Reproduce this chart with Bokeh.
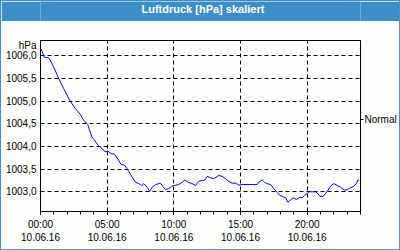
from bokeh.plotting import figure
from bokeh.layouts import column
from bokeh.models import FixedTicker, LinearAxis, Range1d, Label
from bokeh.embed import file_html
from bokeh.resources import INLINE

# --- data (hours since 10.06.16 00:00, pressure in hPa) ---
hours = [0.05, 0.30, 0.60, 0.73, 0.98, 1.35, 1.73, 2.23, 2.60, 2.98, 3.23, 3.55, 3.65, 3.85,
         4.05, 4.30, 4.60, 4.85, 5.05, 5.30, 5.55, 5.85, 6.05, 6.30, 6.62, 6.88, 7.13, 7.37,
         7.58, 7.75, 8.00, 8.18, 8.38, 8.63, 8.87, 9.00, 9.17, 9.38, 9.62, 9.83, 10.07, 10.37,
         10.63, 10.82, 11.08, 11.38, 11.63, 11.87, 12.13, 12.32, 12.50, 12.75, 13.00, 13.37,
         13.63, 13.88, 14.12, 14.38, 14.63, 14.87, 15.13, 15.50, 15.88, 16.25, 16.45, 16.63,
         16.80, 17.00, 17.25, 17.50, 17.75, 17.95, 18.13, 18.38, 18.55, 18.75, 18.95, 19.20,
         19.45, 19.63, 19.80, 20.00, 20.12, 20.38, 20.63, 20.80, 20.95, 21.20, 21.38, 21.55,
         21.80, 22.00, 22.25, 22.50, 22.80, 23.00, 23.25, 23.50, 23.70, 23.80, 23.90]
pressure = [1006.15, 1005.96, 1005.96, 1005.90, 1005.76, 1005.51, 1005.28, 1005.00, 1004.84,
            1004.71, 1004.58, 1004.48, 1004.39, 1004.21, 1004.14, 1004.03, 1003.96, 1003.88,
            1003.90, 1003.84, 1003.83, 1003.70, 1003.60, 1003.59, 1003.45, 1003.32, 1003.21,
            1003.18, 1003.14, 1003.18, 1003.10, 1003.01, 1003.10, 1003.16, 1003.18, 1003.19,
            1003.12, 1003.05, 1003.07, 1003.12, 1003.14, 1003.16, 1003.21, 1003.26, 1003.21,
            1003.18, 1003.14, 1003.23, 1003.25, 1003.26, 1003.34, 1003.31, 1003.29, 1003.36,
            1003.34, 1003.29, 1003.23, 1003.19, 1003.19, 1003.15, 1003.16, 1003.16, 1003.16,
            1003.16, 1003.23, 1003.26, 1003.21, 1003.18, 1003.16, 1003.07, 1002.99, 1002.92,
            1002.90, 1002.87, 1002.77, 1002.82, 1002.87, 1002.83, 1002.88, 1002.87, 1002.92,
            1002.96, 1003.00, 1003.00, 1003.00, 1002.96, 1002.90, 1002.90, 1002.96, 1003.03,
            1003.14, 1003.18, 1003.14, 1003.10, 1003.04, 1003.04, 1003.09, 1003.12, 1003.19,
            1003.26, 1003.25]

x_ticks = [0, 5, 10, 15, 20]
x_minor_ticks = list(range(0, 25))
x_tick_labels = ["00:00\n10.06.16", "05:00\n10.06.16", "10:00\n10.06.16",
                 "15:00\n10.06.16", "20:00\n10.06.16"]
y_ticks = [1003.0, 1003.5, 1004.0, 1004.5, 1005.0, 1005.5, 1006.0]
y_tick_labels = ["1003,0", "1003,5", "1004,0", "1004,5", "1005,0", "1005,5", "1006,0"]
normal_value = [1004.59]
normal_label = ["Normal"]
title_text = "Luftdruck [hPa] skaliert"
unit_text = "hPa"

UNIT_POS = 1006.23          # where the unit caption sits on the value axis
FONT = "Liberation Sans"
BLUE = "#3d8ec6"
BG = "#fcfefc"

# ---- title bar ----
t = figure(width=398, height=20, output_backend="svg", toolbar_location=None,
           x_range=Range1d(0, 398), y_range=Range1d(0, 20), title=None,
           x_axis_type=None, y_axis_type=None, min_border=0,
           background_fill_color=BLUE, border_fill_color=BLUE, outline_line_color=None)
t.xgrid.visible = False
t.ygrid.visible = False
t.add_layout(Label(x=202, y=12.5, text=title_text, text_align="center",
                   text_baseline="middle", text_color="white", text_font=FONT,
                   text_font_style="bold", text_font_size="11px"))

# ---- main chart ----
p = figure(width=398, height=228, output_backend="svg", toolbar_location=None, title=None,
           x_range=Range1d(0, 24), y_range=Range1d(1002.565, 1006.338),
           min_border_left=39, min_border_right=39, min_border_top=19, min_border_bottom=38,
           background_fill_color=BG, border_fill_color=BG,
           outline_line_color="black", outline_line_width=1)

p.line(hours, pressure, line_color="#0000ff", line_width=1)

xa = p.xaxis[0]
xa.ticker = FixedTicker(ticks=x_ticks, minor_ticks=x_minor_ticks)
xa.major_label_overrides = {tk: lb for tk, lb in zip(x_ticks, x_tick_labels)}
xa.major_tick_out = 3
xa.major_tick_in = 0
xa.minor_tick_out = 3
xa.minor_tick_in = 0
xa.major_label_standoff = 4
xa.major_label_text_font = FONT
xa.major_label_text_font_size = "10px"
xa.major_label_text_color = "black"
xa.axis_line_color = "black"

ya = p.yaxis[0]
ya.ticker = FixedTicker(ticks=y_ticks + [UNIT_POS], minor_ticks=[])
overrides = {tk: lb for tk, lb in zip(y_ticks, y_tick_labels)}
overrides[UNIT_POS] = unit_text
ya.major_label_overrides = overrides
ya.major_tick_out = 0
ya.major_tick_in = 0
ya.minor_tick_out = 0
ya.minor_tick_in = 0
ya.major_label_standoff = 4
ya.major_label_text_font = FONT
ya.major_label_text_font_size = "10px"
ya.major_label_text_color = "black"
ya.axis_line_color = "black"

ra = LinearAxis(ticker=FixedTicker(ticks=normal_value, minor_ticks=[]),
                major_label_overrides={normal_value[0]: normal_label[0]},
                major_tick_out=3, major_tick_in=0, minor_tick_out=0, minor_tick_in=0,
                major_label_standoff=1, major_label_text_font=FONT,
                major_label_text_font_size="10px", major_label_text_color="black",
                axis_line_color="black")
p.add_layout(ra, "right")

p.xgrid.ticker = FixedTicker(ticks=x_ticks)
p.ygrid.ticker = FixedTicker(ticks=y_ticks)
for g in (p.xgrid[0], p.ygrid[0]):
    g.grid_line_color = "black"
    g.grid_line_dash = "4 3"
    g.grid_line_width = 1
    g.grid_line_alpha = 1

layout = column(t, p, spacing=0,
                styles={"border-left": f"1px solid {BLUE}", "border-top": f"1px solid {BLUE}",
                        "border-right": "1px solid #5b8db8", "border-bottom": "1px solid #5b8db8",
                        "background-color": BG})

open("out.html", "w").write(file_html(layout, INLINE))
